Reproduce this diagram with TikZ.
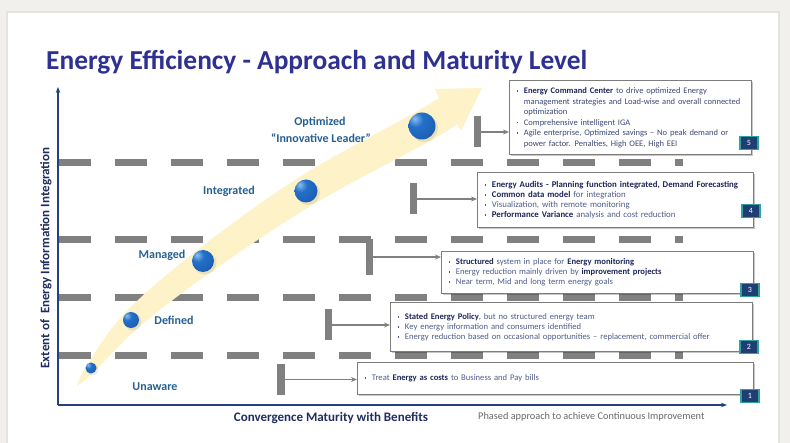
\documentclass[tikz,border=0pt]{standalone}
\usepackage{fontspec}
\setmainfont{Carlito}
\usetikzlibrary{arrows.meta,shadows}

\definecolor{bgout}{RGB}{241,240,237}
\definecolor{titleblue}{RGB}{46,49,146}
\definecolor{axisblue}{RGB}{35,64,130}
\definecolor{axnavy}{RGB}{32,45,95}
\definecolor{levelblue}{RGB}{38,96,146}
\definecolor{dashgrey}{RGB}{128,128,128}
\definecolor{boxgrey}{RGB}{125,125,125}
\definecolor{boxtxt}{RGB}{80,92,138}
\definecolor{boxtxtdark}{RGB}{62,72,118}
\definecolor{boldtxt}{RGB}{30,38,90}
\definecolor{numfill}{RGB}{31,63,115}
\definecolor{numborder}{RGB}{48,160,160}
\definecolor{greytxt}{RGB}{105,105,105}
\definecolor{bandyellow}{RGB}{253,242,200}
\definecolor{ballhi}{RGB}{140,190,240}
\definecolor{ballblue}{RGB}{35,112,200}
\definecolor{ballmid}{RGB}{25,88,172}
\definecolor{balldark}{RGB}{18,66,140}

\pgfdeclareradialshading{myball}{\pgfpoint{-14bp}{14bp}}{%
  color(0bp)=(ballhi); color(14bp)=(ballblue); color(45bp)=(ballmid); color(72bp)=(balldark); color(100bp)=(balldark)}

\newcommand\nohy{\hyphenpenalty=10000\relax}
\newcommand\bx{\textcolor{boxtxt}{\rule[1.9pt]{1.7pt}{1.7pt}}\hspace{5.6pt}}
\newcommand\ind{\hspace*{7.3pt}}
\newcommand\hb[1]{\textbf{\textcolor{boldtxt}{#1}}}

\tikzset{
  infobox/.style={draw=boxgrey, line width=1.3pt, fill=white, anchor=north west,
    inner xsep=7pt, inner ysep=0pt, align=left, text=boxtxt,
    font=\fontsize{8.6}{10}\selectfont,
    drop shadow={shadow xshift=1.6pt, shadow yshift=-1.6pt, fill=black, opacity=0.22}},
  numbox/.style={draw=numborder, line width=1.1pt, fill=numfill, text=white,
    minimum width=18pt, minimum height=13pt, inner sep=0pt,
    font=\fontsize{8}{8}\selectfont},
  lvl/.style={font=\fontsize{12}{14}\selectfont\bfseries, text=levelblue, anchor=base, inner sep=0pt},
  ball/.style={circle, shading=myball, inner sep=0pt},
  barnode/.style={fill=dashgrey, minimum width=7.5pt, inner sep=0pt},
  conn/.style={draw=dashgrey, line width=1.3pt, -{Stealth[length=6pt,width=5pt]}},
  dashline/.style={draw=dashgrey, line width=7pt, dash pattern=on 32pt off 24pt},
  axisline/.style={draw=axisblue, line width=1.4pt, -{Stealth[length=6pt,width=4.5pt]}},
}

\begin{document}
\begin{tikzpicture}[x=1pt, y=-1pt]
\useasboundingbox (0,0) rectangle (790,443);
% background and panel
\fill[bgout] (0,0) rectangle (790,443);
\fill[black, opacity=0.05] (6,11) rectangle (780,443);
\fill[white] (8,13) rectangle (778,443);

% title
\node[anchor=base west, inner sep=0pt, text=titleblue, font=\fontsize{27.4}{30}\selectfont\bfseries] (title) at (46,70) {Energy Efficiency - Approach and Maturity Level};

% dashed level lines
\foreach \yy in {163,240,298,356} {
  \draw[dashline] (59,\yy) -- (683,\yy);
}

% yellow band arrow
\fill[bandyellow] plot[smooth, tension=0.6] coordinates {(77,386) (95,371) (139,327) (211,272) (314,204) (430,141) (457,124)}
  -- (461,131) -- (482,88) -- (435,89)
  -- plot[smooth, tension=0.6] coordinates {(439,98) (414,113) (298,178) (195,252) (125,313) (87,365) (77,386)} -- cycle;

% balls
\fill[black, opacity=0.08] (92.5,369.5) circle (6);
\node[ball, minimum size=11pt] (ball1) at (91,368) {};
\fill[black, opacity=0.08] (133,322) circle (8.5);
\node[ball, minimum size=16pt] (ball2) at (131,320) {};
\fill[black, opacity=0.08] (205,263) circle (11.5);
\node[ball, minimum size=22pt] (ball3) at (203,261) {};
\fill[black, opacity=0.08] (308,193) circle (12);
\node[ball, minimum size=23pt] (ball4) at (306,191) {};
\fill[black, opacity=0.08] (424,128) circle (14);
\node[ball, minimum size=27pt] (ball5) at (422,126) {};

% level labels
\node[lvl] (lopt) at (320,126) {Optimized};
\node[lvl] (linn) at (321,143) {“Innovative Leader”};
\node[lvl] (lint) at (229,195) {Integrated};
\node[lvl] (lman) at (162,259) {Managed};
\node[lvl] (ldef) at (174,325) {Defined};
\node[lvl] (luna) at (155,391) {Unaware};

% info boxes
\node[infobox, text width=228pt, minimum height=74pt, text=boxtxtdark, font=\fontsize{8.5}{10.5}\selectfont] (box5) at (509,80) {\nohy
\bx\hb{Energy Command Center} to drive optimized Energy\\
\ind management strategies and Load-wise and overall connected\\
\ind optimization\\
\bx Comprehensive intelligent IGA\\
\bx Agile enterprise, Optimized savings -- No peak demand or\\
\ind power factor. Penalties, High OEE, High EEI};

\node[infobox, text width=262pt, minimum height=55pt, font=\fontsize{8.8}{10}\selectfont] (box4) at (477,172) {\nohy
\bx\hb{Energy Audits - Planning function integrated, Demand Forecasting}\\
\bx\hb{Common data model} for integration\\
\bx Visualization, with remote monitoring\\
\bx\hb{Performance Variance} analysis and cost reduction};

\node[infobox, text width=298pt, minimum height=42pt] (box3) at (441,251) {\nohy
\bx\hb{Structured} system in place for \hb{Energy monitoring}\\
\bx Energy reduction mainly driven by \hb{improvement projects}\\
\bx Near term, Mid and long term energy goals};

\node[infobox, text width=348pt, minimum height=49pt] (box2) at (390,302) {\nohy
\bx\hb{Stated Energy Policy}, but no structured energy team\\
\bx Key energy information and consumers identified\\
\bx Energy reduction based on occasional opportunities -- replacement, commercial offer};

\node[infobox, text width=382pt, minimum height=32pt] (box1) at (357,362) {\nohy
\bx Treat \hb{Energy as costs} to Business and Pay bills};

% brackets and connectors
\node[barnode, minimum height=31pt] (bar5) at (477.5,132) {};
\node[barnode, minimum height=31pt] (bar4) at (413.5,199) {};
\node[barnode, minimum height=36pt] (bar3) at (369.5,257) {};
\node[barnode, minimum height=31pt] (bar2) at (328.5,325) {};
\node[barnode, minimum height=31pt] (bar1) at (281,379.5) {};
\draw[conn] (bar5.east) -- (bar5.east -| box5.west);
\draw[conn] (bar4.east) -- (bar4.east -| box4.west);
\draw[conn] (bar3.east) -- (bar3.east -| box3.west);
\draw[conn] (bar2.east) -- (bar2.east -| box2.west);
\draw[conn] (bar1.east) -- (bar1.east -| box1.west);

% number tags
\node[numbox] (n5) at (749,143) {5};
\node[numbox] (n4) at (751,211) {4};
\node[numbox] (n3) at (750,290) {3};
\node[numbox] (n2) at (749,347) {2};
\node[numbox] (n1) at (750,396) {1};

% axes
\coordinate (org) at (58,405);
\coordinate (ytip) at (58,87);
\coordinate (xtip) at (727,405);
\draw[axisline] (org) -- (ytip);
\draw[axisline] (org) -- (xtip);

\node[rotate=90, inner sep=0pt, text=axnavy, font=\fontsize{13}{15}\selectfont\bfseries] (ylab) at (46,258) {Extent of\ \ Energy Information Integration};
\node[anchor=base, inner sep=0pt, text=axnavy, font=\fontsize{13}{15}\selectfont\bfseries] (xlab) at (331,421) {Convergence Maturity with Benefits};
\node[anchor=base west, inner sep=0pt, text=greytxt, font=\fontsize{10.3}{12}\selectfont] (phase) at (478,420) {Phased approach to achieve Continuous Improvement};
\end{tikzpicture}
\end{document}
